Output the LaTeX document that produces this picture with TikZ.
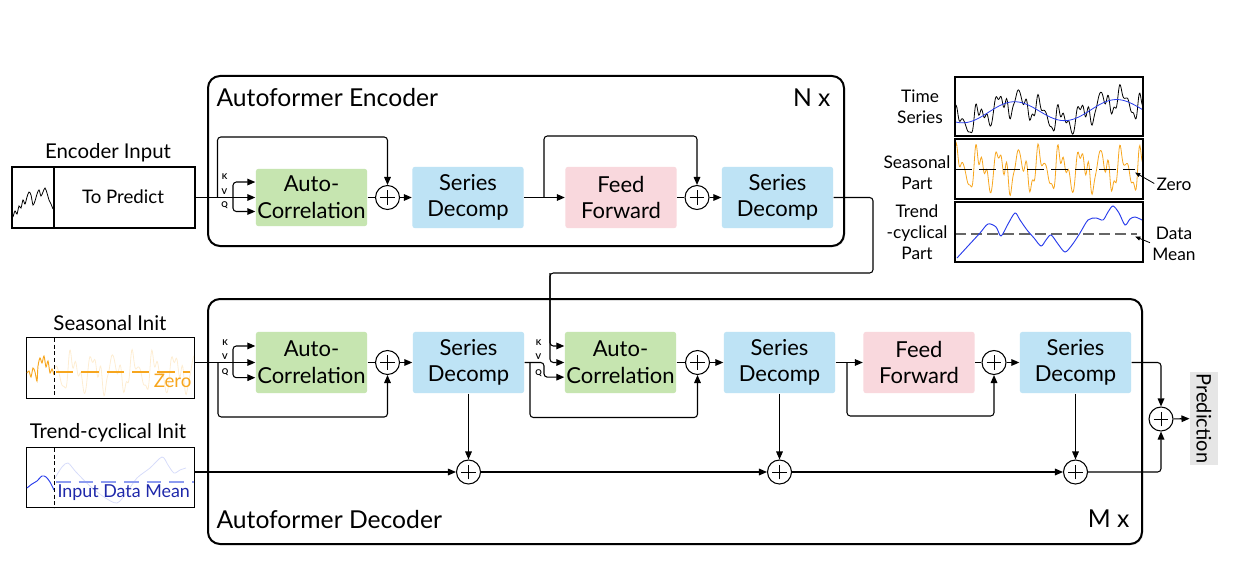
\documentclass[tikz,border=0pt]{standalone}
\usepackage{fontspec}
\setmainfont{Lato}
\usetikzlibrary{arrows.meta,shadows}
\definecolor{acg}{RGB}{198,229,176}
\definecolor{sdb}{RGB}{190,227,245}
\definecolor{ffp}{RGB}{249,216,221}
\definecolor{orng}{RGB}{247,166,30}
\definecolor{blu}{RGB}{40,60,235}
\definecolor{dblu}{RGB}{30,40,170}
\definecolor{lblu}{RGB}{140,155,240}
\definecolor{prg}{RGB}{230,230,230}
\begin{document}
\begin{tikzpicture}[x=0.75pt,y=-0.75pt,
 line width=0.8pt,
 arr/.style={-{Triangle[length=6pt,width=5pt]}},
 rc/.style={rounded corners=2.5pt},
 blk/.style={rounded corners=2pt, minimum width=83.5pt, minimum height=46pt, align=center, inner sep=0pt, font=\fontsize{16.5}{20}\selectfont},
 acbox/.style={blk, fill=acg},
 sdbox/.style={blk, fill=sdb},
 ffbox/.style={blk, fill=ffp},
 plus/.style={circle, draw, minimum size=18pt, inner sep=0pt, line width=0.8pt,
   path picture={\draw[line width=0.7pt] ([xshift=-5.5pt]path picture bounding box.center) -- ([xshift=5.5pt]path picture bounding box.center);
                 \draw[line width=0.7pt] ([yshift=-5.5pt]path picture bounding box.center) -- ([yshift=5.5pt]path picture bounding box.center);}},
 frame/.style={draw, line width=1.5pt, rounded corners=9pt, fill=white, drop shadow={shadow xshift=0.8pt, shadow yshift=-0.8pt, fill=black!35}},
 kvq/.style={font=\fontsize{6}{6}\selectfont\bfseries, inner sep=0pt},
 lbl/.style={font=\fontsize{15.3}{18}\selectfont, inner sep=0pt},
 lbls/.style={font=\fontsize{14}{16}\selectfont, inner sep=0pt},
 ttl/.style={font=\fontsize{18.5}{22}\selectfont, inner sep=0pt},
 smalltxt/.style={font=\fontsize{13}{15.75}\selectfont, align=center, inner sep=0pt},
 inbox/.style={draw, line width=0.8pt, inner sep=0pt},
 wave/.style={line width=0.6pt},
 declare function={
   seas(\x)=-8*sin((\x/20.5)*360+30)-4*sin((\x/20.5)*720+80)-3*sin((\x/6.3)*360)-1.5*sin((\x/5.1)*360+40);
   tst(\x)=113-4*\x/187+10*cos(((\x-8)/102)*360);
 }]
\useasboundingbox (0,0) rectangle (1238,563);

% ---------------- frames
\draw[frame] (208,76) rectangle (844,246);
\draw[frame] (208,299) rectangle (1142,544);
\node[ttl, anchor=base west] at (216,107) {Autoformer Encoder};
\node[ttl, anchor=base east] at (831,107) {N x};
\node[ttl, anchor=base west] at (216,528) {Autoformer Decoder};
\node[ttl, anchor=base east] at (1130,527) {M x};

% ---------------- encoder input
\node[inbox, minimum width=137.25pt, minimum height=45.75pt] (encin) at (103.5,197.5) {};
\draw (54,167) -- (54,228);
\node[lbl] (encinlbl) at (108,153) {Encoder Input};
\node[lbls] (topred) at (123,197) {To Predict};
\draw[wave] plot[smooth] coordinates {(13,217) (15,211) (17,214) (19,206) (21,208) (23,200) (25,204) (27,197) (29,192) (31,195) (33,205) (35,201) (37,194) (39,190) (41,196) (43,192) (45,188) (47,193) (49,200) (51,204) (53,209)};

% ---------------- encoder blocks
\node[acbox, minimum height=43pt] (eac) at (311.5,197.5) {Auto-\\Correlation};
\node[plus] (ep1) at (387.5,197.5) {};
\node[sdbox] (esd1) at (468,197.5) {Series\\Decomp};
\node[ffbox] (eff) at (621,197.5) {Feed\\Forward};
\node[plus] (ep2) at (697,197.5) {};
\node[sdbox] (esd2) at (777.5,197.5) {Series\\Decomp};

\coordinate (efk) at (233,197.5);
\coordinate (esk1) at (217.5,197.5);
\coordinate (esk2) at (544,197.5);
\coordinate (eo1) at (873,273);
\coordinate (eo2) at (550,273);

\draw[arr] (encin.east) -- (eac.west);
\draw[arr,rc] (efk) |- ([yshift=11.6pt]eac.west);
\draw[arr,rc] (efk) |- ([yshift=-10.5pt]eac.west);
\draw[arr,rc] (esk1) -- ++(0,-60.5) -| (ep1);
\draw (eac) -- (ep1);
\draw[arr] (ep1) -- (esd1);
\draw[arr] (esd1) -- (eff);
\draw[arr,rc] (esk2) -- ++(0,-61.5) -| (ep2);
\draw (eff) -- (ep2);
\draw[arr] (ep2) -- (esd2);
\node[kvq] at (224.5,177) {K};
\node[kvq] at (224.5,192) {V};
\node[kvq] at (224.5,205) {Q};

% ---------------- decoder inputs
\node[inbox, minimum width=125.7pt, minimum height=46.2pt] (sinit) at (110.5,368) {};
\node[lbl] (sinitlbl) at (110,323) {Seasonal Init};
\node[inbox, minimum width=125.7pt, minimum height=45.3pt] (tinit) at (110.5,477.5) {};
\node[lbl] (tinitlbl) at (108,433) {Trend-cyclical Init};

\begin{scope}
\clip (54,338) rectangle (194,399);
\draw[orng, opacity=0.2, wave] plot[domain=0:140,samples=250] ({54+\x},{372+1.7*seas(\x+5)});
\end{scope}
\draw[orng, line width=0.9pt, dash pattern=on 13pt off 6pt] (56,372) -- (190,372);
\draw[orng, line width=0.7pt] plot[smooth] coordinates {(27,373) (29,371) (31,377) (33,368) (35,372) (37,381) (38,366) (40,358) (42,363) (44,356) (46,367) (48,361) (50,373) (52,369) (54,375)};
\draw[line width=0.5pt, dash pattern=on 3pt off 2pt] (54,338) -- (54,399);
\node[lbls, orng, anchor=base east] (zero1) at (192,387) {Zero};

\begin{scope}
\clip (54,448) rectangle (194,508);
\draw[lblu, opacity=0.35, wave] plot[smooth] coordinates {(55,478) (62,467) (68,463) (76,472) (90,486) (104,497) (117,503) (127,492) (137,478) (150,468) (162,457) (168,465) (174,473) (180,470) (186,468)};
\end{scope}
\draw[lblu, line width=1.2pt, dash pattern=on 11pt off 6pt] (56,482) -- (194,482);
\draw[blu, line width=0.7pt] plot[smooth] coordinates {(27,488) (32,484) (37,481) (42,476) (46,477) (50,482) (54,490)};
\draw[line width=0.5pt, dash pattern=on 3pt off 2pt] (54,448) -- (54,508);
\node[font=\fontsize{13.4}{16}\selectfont, inner sep=0pt, dblu, anchor=base west] (idm) at (57,497) {Input Data Mean};

% ---------------- decoder blocks
\node[acbox] (dac1) at (311.5,362.5) {Auto-\\Correlation};
\node[plus] (dp1) at (387.5,362.5) {};
\node[sdbox] (dsd1) at (468.5,362.5) {Series\\Decomp};
\node[acbox] (dac2) at (620.5,362.5) {Auto-\\Correlation};
\node[plus] (dp2) at (697.5,362.5) {};
\node[sdbox] (dsd2) at (779.5,362.5) {Series\\Decomp};
\node[ffbox] (dff) at (919,362.5) {Feed\\Forward};
\node[plus] (dp3) at (994,362.5) {};
\node[sdbox] (dsd3) at (1075.5,362.5) {Series\\Decomp};
\node[plus] (tp1) at (468.5,472) {};
\node[plus] (tp2) at (779.5,472) {};
\node[plus] (tp3) at (1075.5,472) {};
\node[plus] (fp) at (1161,419) {};
\node[fill=prg, rotate=-90, minimum width=69.75pt, minimum height=21pt, inner sep=0pt, font=\fontsize{15}{16}\selectfont] (pred) at (1204,418.5) {Prediction};

\coordinate (dfk1) at (233,362.5);
\coordinate (dsk1) at (218,362.5);
\coordinate (dq) at (544,362.5);
\coordinate (dsk2) at (530,362.5);
\coordinate (dsk3) at (847,362.5);

\draw[arr] (sinit.east |- dfk1) -- (dac1.west);
\draw[arr,rc] (dfk1) |- ([yshift=12.4pt]dac1.west);
\draw[arr,rc] (dfk1) |- ([yshift=-11.4pt]dac1.west);
\draw[arr,rc] (dsk1) -- ++(0,54.5) -| (dp1);
\draw (dac1) -- (dp1);
\draw[arr] (dp1) -- (dsd1);
\draw[arr,rc] (dsd1.east) -- (dq) |- ([yshift=-11pt]dac2.west);
\draw[arr,rc] (dsk2) -- ++(0,55) -| (dp2);
\draw[arr,rc] (esd2.east) -| (eo1) -- (eo2) |- ([yshift=12.4pt]dac2.west);
\draw[arr,rc] (eo2) |- (dac2.west);
\draw (dac2) -- (dp2);
\draw[arr] (dp2) -- (dsd2);
\draw[arr] (dsd2) -- (dff);
\draw[arr,rc] (dsk3) -- ++(0,53.5) -| (dp3);
\draw (dff) -- (dp3);
\draw[arr] (dp3) -- (dsd3);
\draw[arr,rc] (dsd3.east) -| (fp);
\draw[arr] (dsd1) -- (tp1);
\draw[arr] (dsd2) -- (tp2);
\draw[arr] (dsd3) -- (tp3);
\draw[arr] (tinit.east |- tp1) -- (tp1);
\draw[arr] (tp1) -- (tp2);
\draw[arr] (tp2) -- (tp3);
\draw[arr,rc] (tp3) -| (fp);
\draw[arr] (fp) -- (pred);

\node[kvq] at (225,342.5) {K};
\node[kvq] at (225,357) {V};
\node[kvq] at (225,372.5) {Q};
\node[kvq] at (538.5,342.5) {K};
\node[kvq] at (538.5,357) {V};
\node[kvq] at (538.5,373) {Q};

% ---------------- top-right decomposition illustration
\begin{scope}
\clip (955,77) rectangle (1143,136);
\draw[wave] plot[domain=0:188,samples=300] ({955+\x},{tst(\x)+1.2*seas(\x)});
\draw[blu, wave] plot[domain=0:188,samples=120] ({955+\x},{tst(\x)});
\end{scope}
\draw[line width=0.8pt] (955,77) rectangle (1143,136);

\begin{scope}
\clip (955,139) rectangle (1143,199);
\draw[orng, wave] plot[domain=0:188,samples=300] ({955+\x},{169+1.9*seas(\x)});
\draw[line width=0.7pt, dash pattern=on 13pt off 5pt] (955,169) -- (1135,169);
\end{scope}
\draw[line width=0.8pt] (955,139) rectangle (1143,199);

\begin{scope}
\clip (955,202) rectangle (1143,262);
\draw[black!60, line width=1.1pt, dash pattern=on 8pt off 4pt] (955,234) -- (1137,234);
\draw[blu, line width=0.7pt] plot[smooth] coordinates {(957,258) (968,246) (980,233) (988,224) (996,227) (1001,236) (1008,224) (1015,213) (1020,220) (1027,230) (1034,238) (1041,246) (1046,240) (1051,235) (1058,244) (1065,252) (1072,245) (1080,233) (1088,220) (1096,218) (1103,220) (1108,212) (1113,206) (1119,213) (1125,225) (1130,219) (1135,217) (1142,220)};
\end{scope}
\draw[line width=0.8pt] (955,202) rectangle (1143,262);

\node[smalltxt] (tslbl) at (920,107) {Time\\Series};
\node[smalltxt] (splbl) at (917,173) {Seasonal\\Part};
\node[smalltxt] (tplbl) at (917,232.5) {Trend\\-cyclical\\Part};
\node[smalltxt] (zl) at (1174,184.5) {Zero};
\node[smalltxt] (dm) at (1174,243.5) {Data\\Mean};
\coordinate (ze) at (1135,172.5);
\coordinate (de) at (1135,236.5);
\draw[-{Triangle[length=4pt,width=3pt]}, line width=0.6pt, shorten <=1.5pt] (zl.west) -- (ze);
\draw[-{Triangle[length=4pt,width=3pt]}, line width=0.6pt, shorten <=1.5pt] (dm.west) -- (de);
\end{tikzpicture}
\end{document}
